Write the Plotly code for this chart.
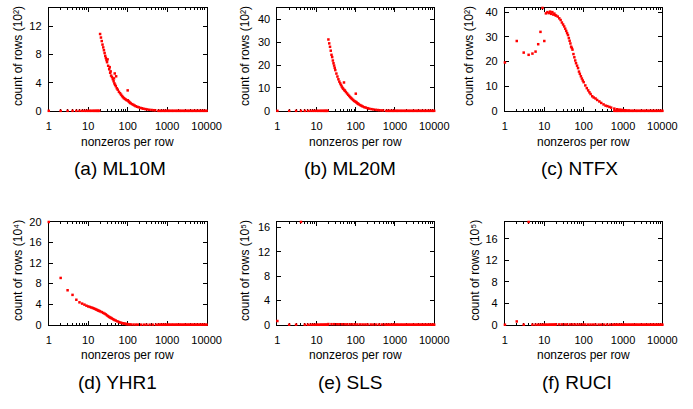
import plotly.graph_objects as go

# ---------------- data ----------------
LOW_X = [1, 2, 3, 4, 5, 6, 7, 8, 9, 10, 11, 12, 13, 14, 15, 16, 17, 18, 19]
TAIL_X = [600, 650, 700, 760, 820, 890, 960, 1040, 1120, 1210, 1310, 1420, 1540,
          1660, 1800, 1950, 2100, 2280, 2460, 2660, 2880, 3110, 3360, 3640, 3930,
          4250, 4600, 4980, 5380, 5820, 6300, 6810, 7370, 7970, 8620, 9320, 10000]
MID_X = [20, 24, 28, 33, 38, 45, 52, 60, 70, 82, 95, 110, 130, 150, 175, 200,
         240, 280, 330, 390, 460, 540]

ml10m_x = [20, 21, 22, 23, 24, 25, 26, 27, 28, 29, 30, 31, 32, 34, 35, 36, 37, 38, 40,
           42, 44, 45, 46, 47, 48, 50, 51, 53, 56, 60, 64, 68, 72, 76, 80, 85, 90, 95,
           100, 101, 105, 110, 115, 120, 130, 140, 150, 160, 175, 190, 210, 230, 250,
           280, 310, 350, 400, 450, 500]
ml10m_y = [10.9, 10.4, 9.9, 9.4, 9.0, 8.6, 8.2, 7.8, 7.5, 7.2, 6.9, 7.3, 6.4, 5.9, 6.2,
           5.4, 5.6, 5.0, 4.8, 4.5, 4.2, 4.6, 3.9, 5.3, 3.7, 3.5, 4.9, 3.2, 3.0, 2.7, 2.5,
           2.3, 2.1, 1.95, 1.8, 1.7, 1.6, 1.5, 2.9, 1.5, 1.35, 1.25, 1.15, 1.05, 0.95,
           0.85, 0.75, 0.65, 0.58, 0.5, 0.42, 0.36, 0.3, 0.25, 0.2, 0.15, 0.12, 0.09, 0.07]

ml20m_x = [20, 21, 22, 23, 24, 25, 26, 27, 28, 29, 30, 32, 34, 36, 38, 40, 42, 44, 46,
           48, 50, 51, 53, 56, 60, 64, 68, 72, 76, 80, 85, 90, 95, 100, 101, 105, 110,
           115, 120, 130, 140, 150, 165, 180, 200, 220, 250, 280, 320, 360, 400, 450,
           500]
ml20m_y = [31.2, 29.5, 28.0, 26.3, 24.5, 23.5, 22.0, 20.8, 19.8, 18.8, 17.8, 16.3, 15.0,
           13.8, 12.8, 12.0, 11.3, 10.6, 10.0, 9.6, 12.4, 9.1, 8.8, 8.2, 7.6, 7.0, 6.5,
           6.0, 5.6, 5.2, 4.8, 4.4, 4.1, 7.5, 3.9, 3.6, 3.3, 3.1, 2.8, 2.5, 2.2, 1.9, 1.6,
           1.4, 1.15, 0.95, 0.75, 0.6, 0.45, 0.35, 0.27, 0.2, 0.15]

ntfx_x = [1, 2, 3, 4, 5, 6, 7, 8, 9, 10, 11, 12, 13, 14, 15, 16, 17, 18, 19, 20, 22, 24,
          26, 28, 30, 32, 34, 36, 38, 40, 42, 44, 46, 48, 50, 52, 55, 58, 61, 64, 68,
          72, 76, 80, 85, 90, 95, 100, 110, 120, 130, 140, 150, 165, 180, 200, 220,
          250, 280, 320, 360, 400, 450, 500, 600, 700, 800, 900, 1000, 1100, 1200, 1400]
ntfx_y = [19.6, 28.3, 23.6, 22.7, 23.2, 24.0, 27.0, 32.0, 41.7, 28.3, 39.5, 40.0, 39.6,
          40.2, 39.3, 40.0, 39.0, 39.4, 38.8, 38.6, 38.2, 37.5, 36.8, 35.8, 35.0, 34.2,
          33.3, 32.4, 31.5, 30.7, 29.5, 28.4, 27.3, 26.0, 25.5, 24.8, 23.0, 21.7, 20.4,
          19.3, 18.3, 17.3, 15.9, 15.0, 14.0, 13.1, 12.3, 11.6, 10.3, 9.2, 8.3, 7.5,
          6.8, 5.9, 5.4, 5.0, 4.4, 3.8, 3.2, 2.6, 2.1, 1.9, 1.6, 1.3, 0.9, 0.65, 0.5,
          0.4, 0.3, 0.22, 0.15, 0.08]

yhr1_x = [1, 2, 3, 4, 5, 6, 7, 8, 9, 10, 11, 12, 13, 14, 15, 16, 17, 18, 19, 20, 22, 24,
          26, 28, 30, 32, 34, 36, 38, 40, 43, 46, 50, 55, 60, 65, 70, 75, 80, 85, 90,
          95, 100, 110, 120, 140, 160, 180, 220, 260, 300, 360, 430, 520]
yhr1_y = [20.0, 9.1, 6.7, 5.8, 4.85, 4.35, 4.1, 3.9, 3.7, 3.55, 3.45, 3.35, 3.25, 3.15,
          3.05, 2.95, 2.85, 2.75, 2.68, 2.6, 2.45, 2.3, 2.15, 2.0, 1.8, 1.65, 1.5, 1.4,
          1.3, 1.2, 1.05, 0.92, 0.8, 0.65, 0.52, 0.42, 0.33, 0.27, 0.22, 0.18, 0.14,
          0.11, 0.09, 0.06, 0.04, 0.02, 0.01, 0.01, 0.0, 0.0, 0.0, 0.0, 0.0, 0.0]

sls_x = [1, 4] + MID_X
sls_y = [0.6, 16.9, 0.1, 0.08, 0.08, 0.07, 0.07, 0.06, 0.06, 0.05, 0.05, 0.05, 0.04,
         0.04, 0.04, 0.03, 0.03, 0.03, 0.03, 0.02, 0.02, 0.02, 0.02, 0.02]

ruci_x = [2, 4] + MID_X
ruci_y = [0.6, 19.1, 0.05, 0.05, 0.05, 0.04, 0.04, 0.04, 0.04, 0.03, 0.03, 0.03, 0.03,
          0.03, 0.02, 0.02, 0.02, 0.02, 0.02, 0.01, 0.01, 0.01, 0.01, 0.01]

X_TICKS = [1, 10, 100, 1000, 10000]
X_TICK_TEXT = ["1", "10", "100", "1000", "10000"]

panels = [
    dict(x=ml10m_x, y=ml10m_y, low=True, ymax=14.6, yt=[0, 4, 8, 12], ylab="count of rows (10²)", cap="(a) ML10M"),
    dict(x=ml20m_x, y=ml20m_y, low=True, ymax=45, yt=[0, 10, 20, 30, 40], ylab="count of rows (10²)", cap="(b) ML20M"),
    dict(x=ntfx_x, y=ntfx_y, low=False, ymax=41.7, yt=[0, 10, 20, 30, 40], ylab="count of rows (10²)", cap="(c) NTFX"),
    dict(x=yhr1_x, y=yhr1_y, low=False, ymax=20, yt=[0, 4, 8, 12, 16, 20], ylab="count of rows (10⁴)", cap="(d) YHR1"),
    dict(x=sls_x, y=sls_y, low=True, ymax=16.9, yt=[0, 4, 8, 12, 16], ylab="count of rows (10⁵)", cap="(e) SLS"),
    dict(x=ruci_x, y=ruci_y, low=True, ymax=19.1, yt=[0, 4, 8, 12, 16], ylab="count of rows (10⁵)", cap="(f) RUCI"),
]

# minor tick positions of a log axis (2..9 in each decade)
MINOR_TICKS = [m * 10 ** d for d in range(4) for m in range(2, 10)]

# ---------------- layout geometry (pixels) ----------------
W, H = 693, 409
COLS = [(47, 209), (281.7, 442.7), (515.3, 677)]
ROWS = [(2, 108), (222.5, 328.3)]
YTITLE_X = [[16, 249, 479], [16, 249, 485]]
CAP_X = [[120, 356, 592], [118, 356, 589]]
XTITLE_Y = [140, 360]
CAP_Y = [167, 388]

FONT = "Liberation Sans"
RED = "#ff0000"

fig = go.Figure()
annotations = []

for i, p in enumerate(panels):
    r, c = divmod(i, 3)
    n = i + 1
    xa = "x" if n == 1 else f"x{n}"
    ya = "y" if n == 1 else f"y{n}"
    low = [v for v in LOW_X if v not in p["x"]] if p["low"] else []
    xs = low + list(p["x"]) + TAIL_X
    ys = [0] * len(low) + list(p["y"]) + [0] * len(TAIL_X)
    fig.add_trace(go.Scatter(
        x=xs, y=ys, mode="markers", xaxis=xa, yaxis=ya, cliponaxis=False,
        marker=dict(color=RED, size=2.5, symbol="square", line=dict(width=0)),
        showlegend=False, hoverinfo="skip"))

    x0, x1 = COLS[c]
    top, bot = ROWS[r]
    axcommon = dict(showline=True, linecolor="black", linewidth=1, mirror="ticks",
                    ticks="inside", tickcolor="black", showgrid=False, zeroline=False,
                    tickfont=dict(family=FONT, size=11, color="black"),
                    layer="below traces")
    fig.layout[("xaxis" if n == 1 else f"xaxis{n}")] = dict(
        axcommon, type="log", range=[0, 4], domain=[x0 / W, x1 / W],
        anchor=ya, tickmode="array", tickvals=X_TICKS, ticktext=X_TICK_TEXT, ticklen=4,
        ticklabelstandoff=5,
        minor=dict(ticks="inside", ticklen=2, tickcolor="black", showgrid=False,
                   tickmode="array", tickvals=MINOR_TICKS))
    fig.layout[("yaxis" if n == 1 else f"yaxis{n}")] = dict(
        axcommon, range=[0, p["ymax"]], domain=[1 - bot / H, 1 - top / H],
        anchor=xa, tickmode="array", tickvals=p["yt"], ticklen=4, ticklabelstandoff=4)

    annotations.append(dict(
        text=p["ylab"], textangle=-90,
        x=YTITLE_X[r][c] / W, y=1 - ((top + bot) / 2 - 3) / H,
        xref="paper", yref="paper", showarrow=False, xanchor="center", yanchor="middle",
        font=dict(family=FONT, size=12, color="black")))
    annotations.append(dict(
        text="nonzeros per row", x=(x0 + x1) / 2 / W, y=1 - XTITLE_Y[r] / H,
        xref="paper", yref="paper", showarrow=False, xanchor="center", yanchor="middle",
        font=dict(family=FONT, size=12, color="black")))
    annotations.append(dict(
        text=p["cap"], x=CAP_X[r][c] / W, y=1 - CAP_Y[r] / H,
        xref="paper", yref="paper", showarrow=False, xanchor="center", yanchor="middle",
        font=dict(family=FONT, size=19, color="black")))

fig.update_layout(
    width=W, height=H, margin=dict(l=0, r=0, t=0, b=0),
    paper_bgcolor="white", plot_bgcolor="white",
    annotations=annotations, font=dict(family=FONT, color="black"))

fig.write_html("out.html", config={"displayModeBar": False},
               post_script="document.body.style.margin='0';"
                           "document.body.style.overflow='hidden';")
